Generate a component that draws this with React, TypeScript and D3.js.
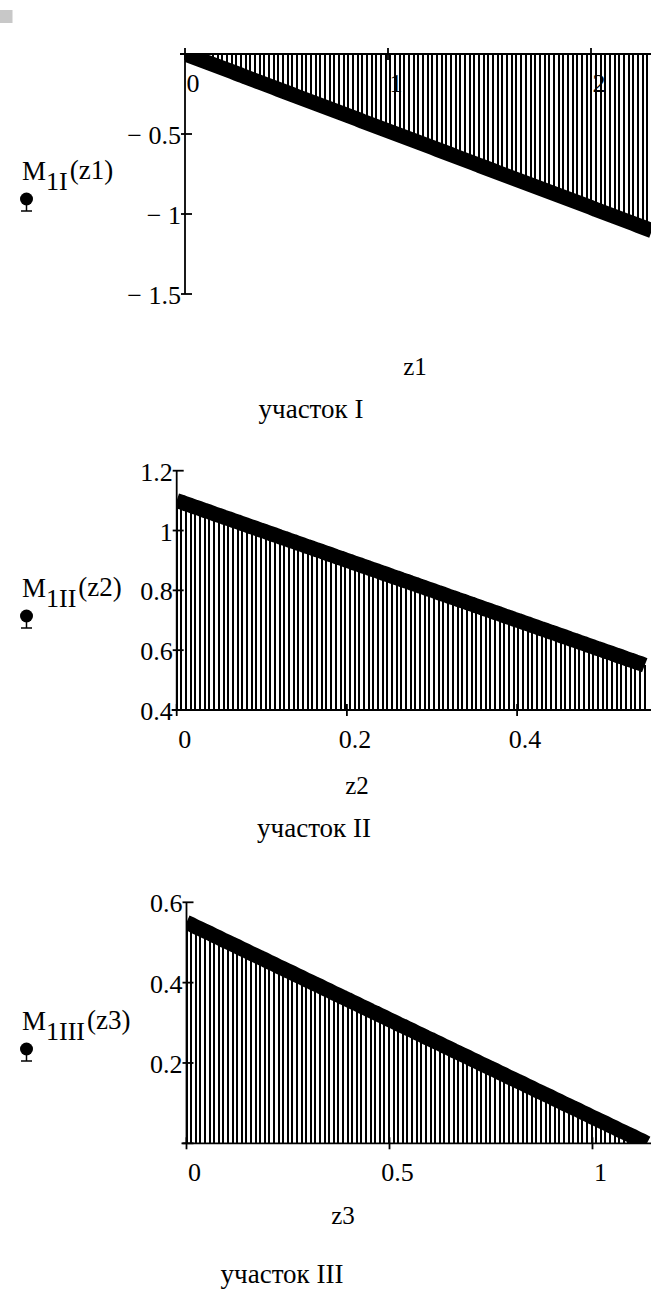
import React from "react";
import * as d3 from "d3";

// sampling step of each trace (one stem per sample)
const z1Step = 0.023;
const z2Step = 0.0055;
const z3Step = 0.01134;

// M1I(z1), section I
const m1I = [
  0, -0.011, -0.022, -0.033, -0.044, -0.055, -0.066, -0.077, -0.088, -0.099,
  -0.11, -0.121, -0.132, -0.144, -0.155, -0.166, -0.177, -0.188, -0.199, -0.21,
  -0.221, -0.232, -0.243, -0.254, -0.265, -0.276, -0.287, -0.298, -0.309, -0.32,
  -0.331, -0.342, -0.353, -0.364, -0.375, -0.386, -0.397, -0.408, -0.42, -0.431,
  -0.442, -0.453, -0.464, -0.475, -0.486, -0.497, -0.508, -0.519, -0.53, -0.541,
  -0.552, -0.563, -0.574, -0.585, -0.596, -0.607, -0.618, -0.629, -0.64, -0.651,
  -0.662, -0.673, -0.684, -0.696, -0.707, -0.718, -0.729, -0.74, -0.751, -0.762,
  -0.773, -0.784, -0.795, -0.806, -0.817, -0.828, -0.839, -0.85, -0.861, -0.872,
  -0.883, -0.894, -0.905, -0.916, -0.927, -0.938, -0.949, -0.96, -0.972, -0.983,
  -0.994, -1.005, -1.016, -1.027, -1.038, -1.049, -1.06, -1.071, -1.082, -1.093,
  -1.104,
];

// M1II(z2), section II
const m1II = [
  1.1, 1.095, 1.089, 1.084, 1.078, 1.073, 1.067, 1.062, 1.056, 1.051,
  1.045, 1.04, 1.034, 1.029, 1.023, 1.018, 1.012, 1.007, 1.001, 0.996,
  0.99, 0.985, 0.979, 0.974, 0.968, 0.963, 0.957, 0.952, 0.946, 0.941,
  0.935, 0.93, 0.924, 0.919, 0.913, 0.908, 0.902, 0.897, 0.891, 0.886,
  0.88, 0.875, 0.869, 0.864, 0.858, 0.853, 0.847, 0.842, 0.836, 0.831,
  0.825, 0.82, 0.814, 0.809, 0.803, 0.798, 0.792, 0.787, 0.781, 0.776,
  0.77, 0.765, 0.759, 0.754, 0.748, 0.743, 0.737, 0.732, 0.726, 0.721,
  0.715, 0.71, 0.704, 0.699, 0.693, 0.688, 0.682, 0.677, 0.671, 0.666,
  0.66, 0.655, 0.649, 0.644, 0.638, 0.633, 0.627, 0.622, 0.616, 0.611,
  0.605, 0.6, 0.594, 0.589, 0.583, 0.578, 0.572, 0.567, 0.561, 0.556,
  0.55,
];

// M1III(z3), section III
const m1III = [
  0.55, 0.545, 0.539, 0.534, 0.528, 0.523, 0.517, 0.512, 0.506, 0.501,
  0.495, 0.49, 0.484, 0.479, 0.473, 0.468, 0.462, 0.457, 0.451, 0.446,
  0.44, 0.435, 0.429, 0.424, 0.418, 0.413, 0.407, 0.402, 0.396, 0.391,
  0.385, 0.38, 0.374, 0.369, 0.363, 0.358, 0.352, 0.347, 0.341, 0.336,
  0.33, 0.325, 0.319, 0.314, 0.308, 0.303, 0.297, 0.292, 0.286, 0.281,
  0.275, 0.27, 0.264, 0.259, 0.253, 0.248, 0.242, 0.237, 0.231, 0.226,
  0.22, 0.215, 0.209, 0.204, 0.198, 0.193, 0.187, 0.182, 0.176, 0.171,
  0.165, 0.16, 0.154, 0.149, 0.143, 0.138, 0.132, 0.127, 0.121, 0.116,
  0.11, 0.105, 0.099, 0.094, 0.088, 0.083, 0.077, 0.072, 0.066, 0.061,
  0.055, 0.05, 0.044, 0.039, 0.033, 0.028, 0.022, 0.017, 0.011, 0.006,
  0,
];

const xTicks1 = [0, 1, 2];
const yTicks1 = [0, -0.5, -1, -1.5];
const yLabels1 = [-0.5, -1, -1.5];
const xTicks2 = [0, 0.2, 0.4];
const yTicks2 = [0.4, 0.6, 0.8, 1, 1.2];
const xTicks3 = [0, 0.5, 1];
const yTicks3 = [0, 0.2, 0.4, 0.6];
const yLabels3 = [0.2, 0.4, 0.6];

const FONT = "'Liberation Serif', 'Times New Roman', serif";
const W = 651;

// mathcad writes negatives as "− 0.5"
const fmt = (v: number) => (v < 0 ? "\u2212 " + String(-v) : String(v));

function Panel(props: any) {
  const { id, values, step, xDom, xRange, yDom, yRange, base, xTicks, yTicks, yLabels,
    sub, arg, labelY, zLabel, zPos, title, titlePos } = props;

  const x = d3.scaleLinear().domain(xDom).range(xRange);
  const y = d3.scaleLinear().domain(yDom).range(yRange);
  const pts = values.map((v: number, i: number) => [i * step, v]);
  const line = d3.line<any>().x((d) => x(d[0])).y((d) => y(d[1]));

  const x0 = x(0);
  const axisY = y(base);
  const top = Math.min(yRange[0], yRange[1]);
  const bottom = Math.max(yRange[0], yRange[1]);

  return (
    <g>
      <defs>
        <clipPath id={"clip" + id}>
          <rect x={x0} y={top} width={W - x0} height={bottom - top} />
        </clipPath>
      </defs>

      {/* tick labels (stems draw over them) */}
      {xTicks.map((t: number) => (
        <text key={"xl" + t} x={x(t) + 8} y={axisY + 38} fontSize={26} textAnchor="middle">
          {fmt(t)}
        </text>
      ))}
      {yLabels.map((t: number) => (
        <text key={"yl" + t} x={x0 - 4} y={y(t) + 10} fontSize={26} textAnchor="end">
          {fmt(t)}
        </text>
      ))}

      {/* stems */}
      <g stroke="#000" strokeWidth={2} shapeRendering="crispEdges">
        {pts.map((d: number[], i: number) => (
          <line key={i} x1={Math.round(x(d[0]))} x2={Math.round(x(d[0]))} y1={y(d[1])} y2={axisY} />
        ))}
      </g>

      {/* thick trace */}
      <path d={line(pts) || ""} fill="none" stroke="#000" strokeWidth={15}
        strokeLinejoin="round" clipPath={`url(#clip${id})`} />

      {/* axes */}
      <g stroke="#000" strokeWidth={1.8}>
        <line x1={x0 - 5} x2={W} y1={axisY} y2={axisY} />
        <line x1={x0} x2={x0} y1={top} y2={bottom} />
        {xTicks.map((t: number) => (
          <line key={"xt" + t} x1={x(t)} x2={x(t)} y1={axisY - 6} y2={axisY + 6} />
        ))}
        {yTicks.map((t: number) => (
          <line key={"yt" + t} x1={x0 - 4} x2={x0 + 7} y1={y(t)} y2={y(t)} />
        ))}
      </g>

      {/* function label with marker */}
      <text x={22} y={labelY} fontSize={27}>
        <tspan>M</tspan>
        <tspan dy={9.5} fontSize={26}>{sub}</tspan>
        <tspan dy={-10.5} dx={2}>{"(" + arg + ")"}</tspan>
      </text>
      <g>
        <circle cx={26.5} cy={labelY + 19} r={6.5} fill="#000" />
        <line x1={26.5} x2={26.5} y1={labelY + 24} y2={labelY + 31} stroke="#000" strokeWidth={1.5} />
        <line x1={21} x2={32} y1={labelY + 31} y2={labelY + 31} stroke="#000" strokeWidth={1.5} />
      </g>

      <text x={zPos[0]} y={zPos[1]} fontSize={25} textAnchor="middle">{zLabel}</text>
      <text x={titlePos[0]} y={titlePos[1]} fontSize={27} textAnchor="middle">{title}</text>
    </g>
  );
}

export default function App() {
  return (
    <svg width={W} height={1292} fontFamily={FONT}
      style={{ position: "absolute", left: 0, top: 0, background: "#fff" }}>
      <rect x={0} y={0} width={W} height={1292} fill="#fff" />
      <rect x={0} y={10} width={12.5} height={13} fill="#c8c8c8" />

      <Panel id="1" values={m1I} step={z1Step}
        xDom={[0, 2.3]} xRange={[185, 185 + 2.3 * 203]}
        yDom={[0, -1.5]} yRange={[54, 294]} base={0}
        xTicks={xTicks1} yTicks={yTicks1} yLabels={yLabels1}
        sub="1I" arg="z1" labelY={180}
        zLabel="z1" zPos={[415, 375]} title="участок I" titlePos={[311, 418]} />

      <Panel id="2" values={m1II} step={z2Step}
        xDom={[0, 0.56]} xRange={[176.7, 176.7 + 0.56 * 851]}
        yDom={[0.4, 1.2]} yRange={[710, 470.7]} base={0.4}
        xTicks={xTicks2} yTicks={yTicks2} yLabels={yTicks2}
        sub="1II" arg="z2" labelY={597}
        zLabel="z2" zPos={[357, 794]} title="участок II" titlePos={[314, 837]} />

      <Panel id="3" values={m1III} step={z3Step}
        xDom={[0, 1.15]} xRange={[186.5, 186.5 + 1.15 * 406]}
        yDom={[0, 0.6]} yRange={[1143.3, 902.3]} base={0}
        xTicks={xTicks3} yTicks={yTicks3} yLabels={yLabels3}
        sub="1III" arg="z3" labelY={1030}
        zLabel="z3" zPos={[343, 1224]} title="участок III" titlePos={[282, 1283]} />
    </svg>
  );
}
